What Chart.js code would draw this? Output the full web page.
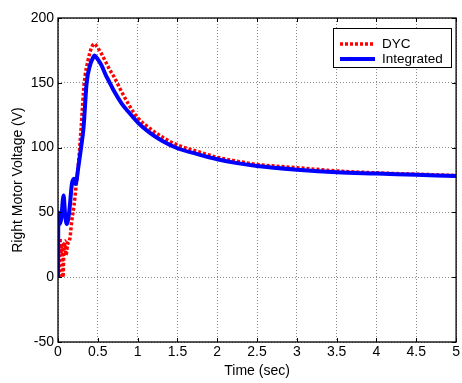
<!DOCTYPE html>
<html>
<head>
<meta charset="utf-8">
<script src="https://cdn.jsdelivr.net/npm/chart.js@4"></script>
<style>
body{margin:0;background:#fff;}
canvas{display:block;}
</style>
</head>
<body>
<canvas id="graficoVoltaje" width="462" height="383"></canvas>
<script>

// Data

const timeDyc = [
    0.015, 0.025, 0.035, 0.05, 0.062, 0.075, 0.09, 0.1, 0.12, 0.15,
    0.17, 0.2, 0.23, 0.26, 0.29, 0.33, 0.38, 0.42, 0.455, 0.5,
    0.55, 0.6, 0.65, 0.7, 0.8, 0.9, 1.0, 1.15, 1.3, 1.5,
    1.75, 2.0, 2.25, 2.5, 3.0, 3.5, 4.0, 4.5, 5.0
];

const voltageDyc = [
    0, 30, 18, 26, 0, 22, 28, 17, 25, 30,
    42, 55, 72, 90, 115, 150, 168, 177, 180, 177,
    172, 166, 160, 155, 143, 132, 123, 115, 108.5, 102,
    97, 92.5, 89.5, 87, 84.5, 82, 80.5, 79.5, 78.5
];

const timeIntegrated = [
    0, 0.005, 0.02, 0.04, 0.07, 0.09, 0.11, 0.14, 0.175, 0.2,
    0.22, 0.26, 0.29, 0.32, 0.36, 0.4, 0.43, 0.46, 0.5, 0.55,
    0.6, 0.65, 0.7, 0.8, 0.9, 1.0, 1.15, 1.3, 1.5, 1.75,
    2.0, 2.25, 2.5, 3.0, 3.5, 4.0, 4.5, 5.0
];

const voltageIntegrated = [
    0, 50, 41, 45, 63, 48, 41, 50, 72, 76,
    72, 87, 100, 115, 150, 163, 168, 171, 168, 163,
    156, 150, 144, 134, 126.5, 119.5, 111.5, 105.5, 99.5, 95,
    91, 88, 85.8, 83, 81, 80, 79, 78
];

const seriesNames = ["DYC", "Integrated"];

const xTicks = [0, 0.5, 1, 1.5, 2, 2.5, 3, 3.5, 4, 4.5, 5];

const yTicks = [-50, 0, 50, 100, 150, 200];

const toPoints = (xs, ys) => xs.map((x, i) => ({x:x, y:ys[i]}));

// Box, inner ticks and legend drawn like MATLAB

const matlabFrame = {

    id:"matlabFrame",

    afterDatasetsDraw(chart){

        const {ctx, chartArea:a, scales:{x, y}} = chart;

        ctx.save();
        ctx.strokeStyle = "#000";
        ctx.lineWidth = 1;
        ctx.setLineDash([]);

        ctx.beginPath();
        xTicks.forEach(v => {
            const px = Math.round(x.getPixelForValue(v)) + 0.5;
            ctx.moveTo(px, a.bottom); ctx.lineTo(px, a.bottom - 4);
            ctx.moveTo(px, a.top); ctx.lineTo(px, a.top + 4);
        });
        yTicks.forEach(v => {
            const py = Math.round(y.getPixelForValue(v)) + 0.5;
            ctx.moveTo(a.left, py); ctx.lineTo(a.left + 4, py);
            ctx.moveTo(a.right, py); ctx.lineTo(a.right - 4, py);
        });
        ctx.stroke();

        ctx.lineWidth = 1.3;
        ctx.strokeRect(a.left, a.top, a.right - a.left, a.bottom - a.top);

        // legend box
        const bx = 333, by = 28, bw = 118, bh = 39;
        ctx.fillStyle = "#fff";
        ctx.fillRect(bx, by, bw, bh);
        ctx.lineWidth = 1;
        ctx.strokeRect(bx + 0.5, by + 0.5, bw, bh);

        ctx.font = "13.5px 'Liberation Sans', Arial, sans-serif";
        ctx.textBaseline = "middle";

        chart.data.datasets.forEach((ds, i) => {
            const ly = by + 16 + i * 15;
            ctx.strokeStyle = ds.borderColor;
            ctx.lineWidth = ds.borderWidth;
            ctx.setLineDash(ds.borderDash || []);
            ctx.beginPath();
            ctx.moveTo(bx + 7, ly);
            ctx.lineTo(bx + 42, ly);
            ctx.stroke();
            ctx.fillStyle = "#000";
            ctx.fillText(ds.label, bx + 49, ly + 0.5);
        });

        ctx.restore();
    }

};

const fuente = {family:"'Liberation Sans', Arial, sans-serif", size:14};

new Chart(document.getElementById("graficoVoltaje"),{

    type:"line",

    data:{

        datasets:[{

            label:seriesNames[0],

            data:toPoints(timeDyc, voltageDyc),

            borderColor:"#ff0000",

            borderWidth:3.5,

            borderDash:[3,2],

            pointRadius:0,

            cubicInterpolationMode:"monotone",

            order:2

        },{

            label:seriesNames[1],

            data:toPoints(timeIntegrated, voltageIntegrated),

            borderColor:"#0000ff",

            borderWidth:4,

            pointRadius:0,

            cubicInterpolationMode:"monotone",

            order:1

        }]

    },

    options:{

        responsive:false,

        animation:false,

        layout:{
            padding:{left:0, right:3, top:18, bottom:0}
        },

        plugins:{

            legend:{
                display:false
            },

            tooltip:{
                enabled:false
            }

        },

        scales:{

            x:{

                type:"linear",

                min:0,

                max:5,

                afterBuildTicks:s => { s.ticks = xTicks.map(v => ({value:v})); },

                afterFit:s => { s.height = 41; },

                ticks:{
                    color:"#000",
                    font:fuente,
                    padding:2,
                    maxRotation:0,
                    callback:v => String(v)
                },

                grid:{
                    color:"#8a8a8a",
                    lineWidth:1,
                    drawTicks:false
                },

                border:{
                    display:false,
                    dash:[1,2]
                },

                title:{
                    display:true,
                    text:"Time (sec)",
                    color:"#000",
                    font:fuente,
                    padding:{top:0, bottom:3}
                }

            },

            y:{

                min:-50,

                max:200,

                afterBuildTicks:s => { s.ticks = yTicks.map(v => ({value:v})); },

                afterFit:s => { s.width = 58; },

                ticks:{
                    color:"#000",
                    font:fuente,
                    padding:4,
                    callback:v => String(v)
                },

                grid:{
                    color:"#8a8a8a",
                    lineWidth:1,
                    drawTicks:false
                },

                border:{
                    display:false,
                    dash:[1,2]
                },

                title:{
                    display:true,
                    text:"Right Motor Voltage (V)",
                    color:"#000",
                    font:fuente,
                    padding:{top:10, bottom:0}
                }

            }

        }

    },

    plugins:[matlabFrame]

});

</script>
</body>
</html>
